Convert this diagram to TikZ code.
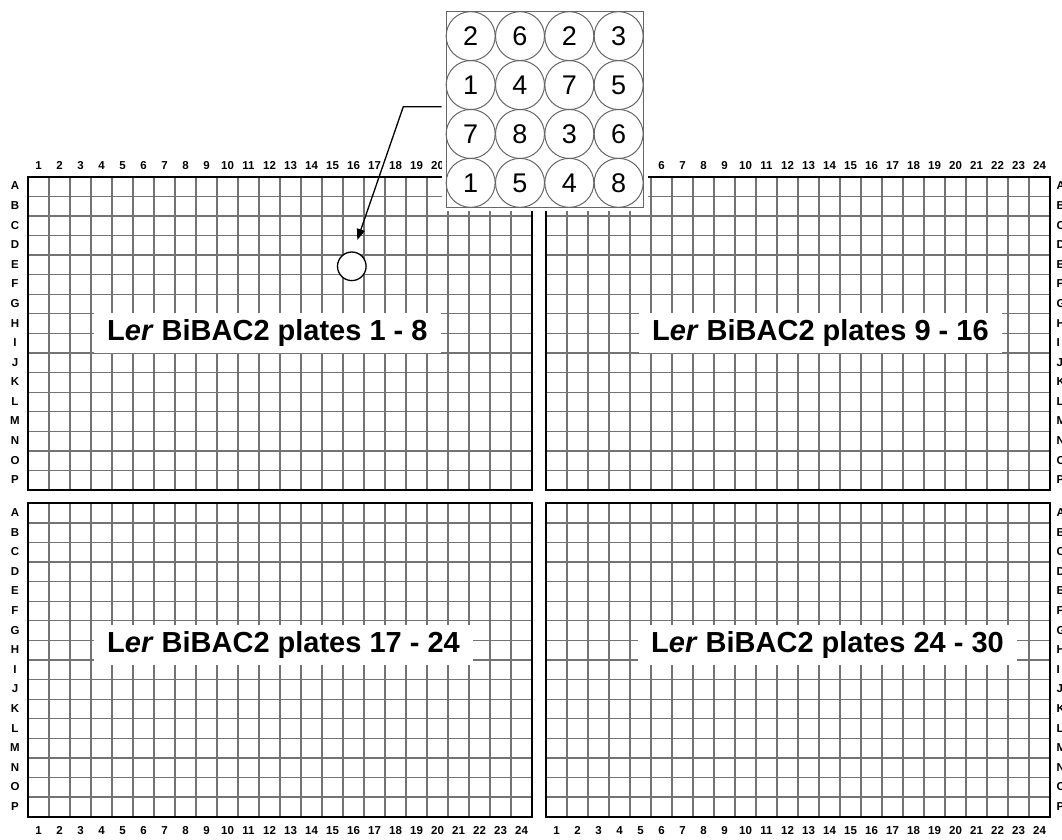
\documentclass[tikz,border=0pt]{standalone}
\usepackage{fontspec}
\setmainfont{Liberation Sans}
\usetikzlibrary{arrows.meta}
\newcommand{\myplate}[3]{% #1 name, #2 x0, #3 y0
  \begin{scope}[shift={(#2,#3)}]
    \foreach \i in {1,...,23} \draw[gridline] (\i*21,0) -- (\i*21,313.4);
    \foreach \j in {1,...,15} \draw[gridline] (0,\j*19.5875) -- (504,\j*19.5875);
    \node[platebox] (#1) at (252,156.7) {};
  \end{scope}}
\begin{document}
\begin{tikzpicture}[x=1pt,y=-1pt,
  gridline/.style={draw=black!55, line width=1.3pt},
  platebox/.style={draw=black, line width=2.2pt, rectangle, minimum width=504pt, minimum height=313.4pt, inner sep=0pt},
  rowlab/.style={font=\fontsize{11.5}{12}\selectfont\bfseries, inner sep=0pt, text height=8.3pt, text depth=0pt},
  collab/.style={font=\fontsize{11.5}{12}\selectfont\bfseries, inner sep=0pt, anchor=base},
  platelabel/.style={fill=white, anchor=west, font=\fontsize{29}{34}\selectfont\bfseries, text height=21pt, text depth=6pt, inner ysep=6.5pt, inner xsep=13pt},
  well/.style={circle, draw=black!60, line width=1pt, minimum size=49pt, inner sep=0pt, font=\fontsize{27}{30}\selectfont},
  marker/.style={circle, draw=black, fill=white, line width=1.3pt, minimum size=28.6pt, inner sep=0pt},
  pointer/.style={draw=black, line width=1.3pt, -{Triangle[length=11pt,width=8pt]}}
]
\useasboundingbox (0,0) rectangle (1062,839);
\fill[white] (0,0) rectangle (1062,839);

% plates
\myplate{pA}{28}{176.7}
\myplate{pB}{546}{176.7}
\myplate{pC}{28}{503.3}
\myplate{pD}{546}{503.3}

% row letters
\foreach \yy in {176.7,503.3}{
  \foreach \l [count=\k] in {A,...,P}{
    \node[rowlab] at (15,\yy+\k*19.5875-10.5) {\l};
    \node[rowlab,anchor=west] at (1056.5,\yy+\k*19.5875-10.5) {\l};
  }
}
% column numbers
\foreach \xx in {28,546}{
  \foreach \c in {1,...,24}{
    \node[collab] at (\xx+\c*21-10.5,169.5) {\c};
    \node[collab] at (\xx+\c*21-10.5,834.5) {\c};
  }
}

% plate labels
\node[platelabel] (lA) at (94,333) {L\textit{er} BiBAC2 plates 1 - 8};
\node[platelabel] (lB) at (639,333) {L\textit{er} BiBAC2 plates 9 - 16};
\node[platelabel] (lC) at (94,645) {L\textit{er} BiBAC2 plates 17 - 24};
\node[platelabel] (lD) at (638,645) {L\textit{er} BiBAC2 plates 24 - 30};

% marked well
\node[marker] (target) at (351.8,266.3) {};

% inset
\fill[white] (442,0) rectangle (648,211);
\node[draw=black!60, line width=1pt, fill=white, rectangle, minimum width=197.3pt, minimum height=195.6pt, inner sep=0pt] (inset) at (544.65,109.5) {};
\foreach \row [count=\j from 0] in {{2,6,2,3},{1,4,7,5},{7,8,3,6},{1,5,4,8}}{
  \foreach \d [count=\i from 0] in \row{
    \node[well] (w\j\i) at (470.66+\i*49.33,36.15+\j*48.9) {\d};
  }
}

% pointer
\coordinate (a0) at (441.7,106.7);
\coordinate (a1) at (403.3,106.7);
\coordinate (tip) at (357.3,240);
\draw[pointer] (a0) -- (a1) -- (tip);
\end{tikzpicture}
\end{document}
